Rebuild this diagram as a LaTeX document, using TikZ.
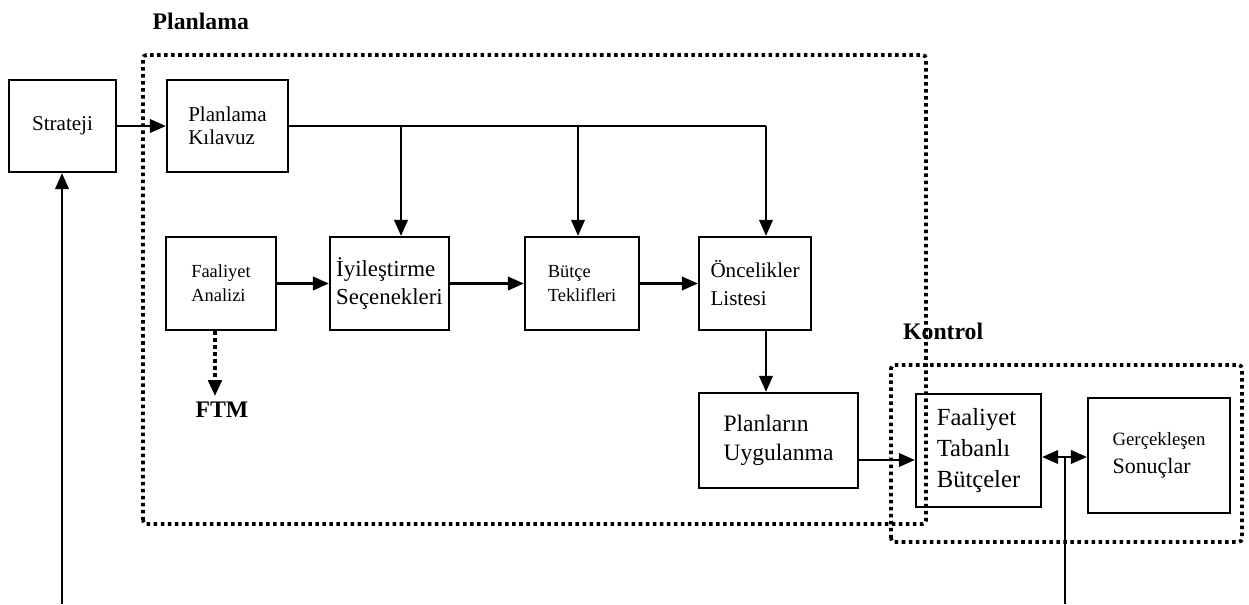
\documentclass[tikz,border=0pt]{standalone}
\usepackage{fontspec}
\setmainfont{Liberation Serif}
\usetikzlibrary{arrows.meta}

\begin{document}
\begin{tikzpicture}[
  x=1cm,
  y=1cm,
  box/.style={draw, line width=1.3pt, align=left, inner sep=0pt},
  arrow/.style={line width=1.3pt, -{Triangle[length=0.32cm,width=0.27cm]}},
  region/.style={line width=2.1pt, dash pattern=on 2pt off 2pt, rounded corners=2pt},
  title/.style={font=\fontsize{13.5}{15}\selectfont\bfseries}
]
  \useasboundingbox (0,0) rectangle (24.98,12.08);

  % dotted frames
  \draw[region] (2.86,1.60) rectangle (18.52,10.98);
  \draw[region] (17.82,1.24) rectangle (24.84,4.78);
  \node[title, anchor=west] (planlamalbl) at (2.93,11.66) {Planlama};
  \node[title, anchor=west] (kontrollbl) at (17.94,5.46) {Kontrol};

  % boxes
  \node[box, minimum width=2.14cm, minimum height=1.84cm,
    font=\fontsize{12}{14}\selectfont] (strateji) at (1.25,9.56) {Strateji};
  \node[box, minimum width=2.42cm, minimum height=1.84cm,
    font=\fontsize{12}{13}\selectfont] (kilavuz) at (4.55,9.56) {Planlama\\Kılavuz};
  \node[box, minimum width=2.20cm, minimum height=1.86cm,
    font=\fontsize{10.5}{13.5}\selectfont] (analiz) at (4.42,6.41) {Faaliyet\\Analizi};
  \node[box, minimum width=2.38cm, minimum height=1.86cm,
    font=\fontsize{13}{15.9}\selectfont] (iyilestirme) at (7.79,6.41) {İyileştirme\\Seçenekleri};
  \node[box, minimum width=2.28cm, minimum height=1.86cm,
    font=\fontsize{10.5}{13.5}\selectfont] (teklif) at (11.64,6.41) {Bütçe\\Teklifleri};
  \node[box, minimum width=2.24cm, minimum height=1.86cm,
    font=\fontsize{12}{15.9}\selectfont] (oncelik) at (15.10,6.41) {Öncelikler\\Listesi};
  \node[box, minimum width=3.18cm, minimum height=1.90cm,
    font=\fontsize{13.4}{16.5}\selectfont] (planlar) at (15.57,3.27) {Planların\\Uygulanma};
  \node[box, minimum width=2.50cm, minimum height=2.26cm,
    font=\fontsize{14}{17.6}\selectfont] (tabanli) at (19.57,3.07) {Faaliyet\\Tabanlı\\Bütçeler};
  \node[box, minimum width=2.84cm, minimum height=2.30cm,
    font=\fontsize{12.5}{15.9}\selectfont] (sonuc) at (23.18,2.97)
    {{\fontsize{10.7}{12}\selectfont Gerçekleşen}\\Sonuçlar};
  \node[title] (ftm) at (4.44,3.88) {FTM};

  % connectors
  \draw[arrow] (strateji) -- (kilavuz);
  \draw[line width=1.3pt] (kilavuz.east) -- ([xshift=0.22cm]oncelik.north |- kilavuz.east);
  \draw[arrow] ([xshift=0.22cm]oncelik.north |- kilavuz.east) -- ([xshift=0.22cm]oncelik.north);
  \draw[arrow] ([xshift=0.23cm]iyilestirme.north |- kilavuz.east) -- ([xshift=0.23cm]iyilestirme.north);
  \draw[arrow] ([xshift=-0.08cm]teklif.north |- kilavuz.east) -- ([xshift=-0.08cm]teklif.north);
  \draw[arrow] (analiz) -- (iyilestirme);
  \draw[arrow] (iyilestirme) -- (teklif);
  \draw[arrow] (teklif) -- (oncelik);
  \draw[arrow] ([xshift=0.22cm]oncelik.south) -- ([xshift=0.22cm]oncelik.south |- planlar.north);
  \draw[arrow, line width=2.1pt, dash pattern=on 2pt off 2pt] ([xshift=-0.12cm]analiz.south) -- ([xshift=-0.12cm]analiz.south |- ftm.north);

  \coordinate (uygout) at ([yshift=-0.39cm]planlar.east);
  \draw[arrow] (uygout) -- (uygout -| tabanli.west);

  \coordinate (fb) at (21.30,2.94);
  \coordinate (fbfoot) at (21.30,0);
  \draw[line width=1.3pt] (fbfoot) -- (fb);
  \draw[arrow] (fb) -- (fb -| tabanli.east);
  \draw[arrow] (fb) -- (fb -| sonuc.west);

  \coordinate (stfoot) at (1.24,0);
  \draw[arrow] (stfoot) -- (stfoot |- strateji.south);
\end{tikzpicture}
\end{document}
